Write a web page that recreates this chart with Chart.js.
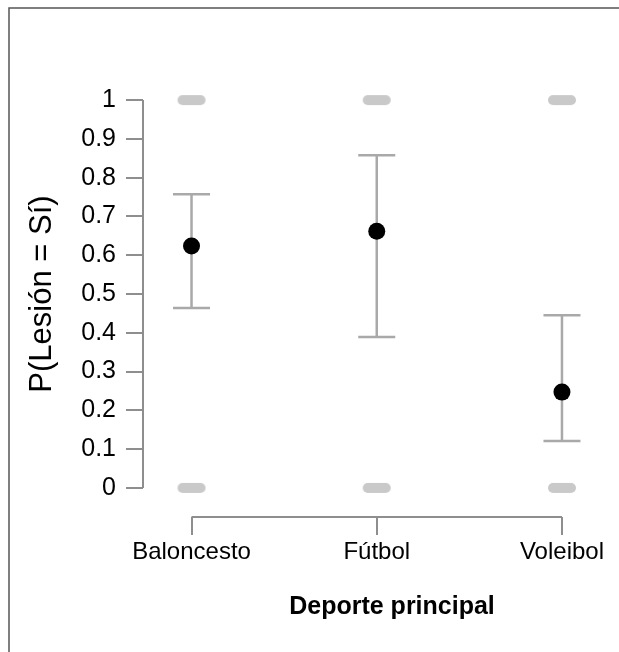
<!DOCTYPE html>
<html>
<head>
<meta charset="utf-8">
<script src="https://cdn.jsdelivr.net/npm/chart.js@4.4.1/dist/chart.umd.min.js"></script>
<style>
  html, body { margin: 0; padding: 0; background: #fff; }
  #wrap { width: 619px; height: 652px; position: relative; }
</style>
</head>
<body>
<div id="wrap"><canvas id="chart"></canvas></div>
<script>
const sports = ['Baloncesto', 'Fútbol', 'Voleibol'];
const probInjury = [0.624, 0.662, 0.247];
const ciLower = [0.464, 0.389, 0.121];
const ciUpper = [0.757, 0.858, 0.445];
const observedOutcomes = [0, 1];
const yTicks = [0, 0.1, 0.2, 0.3, 0.4, 0.5, 0.6, 0.7, 0.8, 0.9, 1];
const xTitle = 'Deporte principal';
const yTitle = 'P(Lesión = Sí)';

const FONT = '"Liberation Sans", Arial, Helvetica, sans-serif';
const axisGrey = '#8e8e8e';
const barGrey = '#a9a9a9';

// rounded grey dash used for the raw observations
const dash = document.createElement('canvas');
dash.width = 30; dash.height = 12;
(function() {
  const c = dash.getContext('2d');
  c.strokeStyle = '#c9c9c9';
  c.lineWidth = 10;
  c.lineCap = 'round';
  c.beginPath();
  c.moveTo(6, 6);
  c.lineTo(24, 6);
  c.stroke();
})();

const rawPoints = [];
sports.forEach((s, i) => observedOutcomes.forEach(v => rawPoints.push({ x: i, y: v })));

const framePlugin = {
  id: 'frame',
  beforeDraw(chart) {
    const ctx = chart.ctx;
    ctx.save();
    ctx.strokeStyle = '#555';
    ctx.lineWidth = 1.5;
    ctx.beginPath();
    ctx.moveTo(9, 660);
    ctx.lineTo(9, 8);
    ctx.lineTo(640, 8);
    ctx.stroke();
    ctx.restore();
  },
  afterDraw(chart) {
    // x title sits a little right of the plot centre
    const ctx = chart.ctx;
    ctx.save();
    ctx.fillStyle = '#000';
    ctx.font = 'bold 25px ' + FONT;
    ctx.textAlign = 'center';
    ctx.textBaseline = 'middle';
    ctx.fillText(xTitle, 392, 607);
    ctx.restore();
  }
};

const axesPlugin = {
  id: 'axisLines',
  beforeDatasetsDraw(chart) {
    const { ctx, scales: { x, y } } = chart;
    ctx.save();
    ctx.strokeStyle = axisGrey;
    ctx.lineWidth = 2;
    ctx.beginPath();
    ctx.moveTo(x.left, y.getPixelForValue(yTicks[0]));
    ctx.lineTo(x.left, y.getPixelForValue(yTicks[yTicks.length - 1]));
    ctx.moveTo(x.getPixelForValue(0), y.bottom);
    ctx.lineTo(x.getPixelForValue(sports.length - 1), y.bottom);
    ctx.stroke();

    // confidence intervals
    ctx.strokeStyle = barGrey;
    ctx.lineWidth = 2.5;
    sports.forEach((s, i) => {
      const px = x.getPixelForValue(i);
      const lo = y.getPixelForValue(ciLower[i]);
      const hi = y.getPixelForValue(ciUpper[i]);
      ctx.beginPath();
      ctx.moveTo(px, lo);
      ctx.lineTo(px, hi);
      ctx.moveTo(px - 18.5, lo);
      ctx.lineTo(px + 18.5, lo);
      ctx.moveTo(px - 18.5, hi);
      ctx.lineTo(px + 18.5, hi);
      ctx.stroke();
    });
    ctx.restore();
  }
};

new Chart(document.getElementById('chart'), {
  type: 'scatter',
  data: {
    datasets: [
      {
        data: rawPoints,
        pointStyle: dash,
        pointRadius: 6,
        pointHoverRadius: 6
      },
      {
        data: probInjury.map((p, i) => ({ x: i, y: p })),
        backgroundColor: '#000',
        borderColor: '#000',
        borderWidth: 0,
        pointRadius: 8.5,
        pointHoverRadius: 8.5
      }
    ]
  },
  options: {
    responsive: true,
    maintainAspectRatio: false,
    animation: false,
    layout: { padding: { top: 71, right: 4, left: 0, bottom: 0 } },
    plugins: { legend: { display: false }, tooltip: { enabled: false } },
    scales: {
      x: {
        type: 'linear',
        min: -0.262,
        max: 2.262,
        afterBuildTicks: s => { s.ticks = sports.map((c, i) => ({ value: i })); },
        afterFit: s => { s.height = 135; },
        border: { display: false },
        grid: { drawOnChartArea: false, drawTicks: true, tickLength: 18, color: axisGrey, lineWidth: 2 },
        ticks: {
          callback: v => sports[v],
          color: '#000',
          padding: 3,
          maxRotation: 0,
          font: { family: FONT, size: 24 }
        }
      },
      y: {
        min: -0.075,
        max: 1.075,
        afterBuildTicks: s => { s.ticks = yTicks.map(v => ({ value: v })); },
        afterFit: s => { s.width = 143; },
        border: { display: false },
        grid: { drawOnChartArea: false, drawTicks: true, tickLength: 17, color: axisGrey, lineWidth: 2 },
        ticks: {
          callback: v => String(Number(v.toFixed(1))),
          color: '#000',
          padding: 10,
          font: { family: FONT, size: 25 }
        },
        title: {
          display: true,
          text: yTitle,
          color: '#000',
          padding: { top: 24, bottom: 0 },
          font: { family: FONT, size: 31 }
        }
      }
    }
  },
  plugins: [framePlugin, axesPlugin]
});
</script>
</body>
</html>
